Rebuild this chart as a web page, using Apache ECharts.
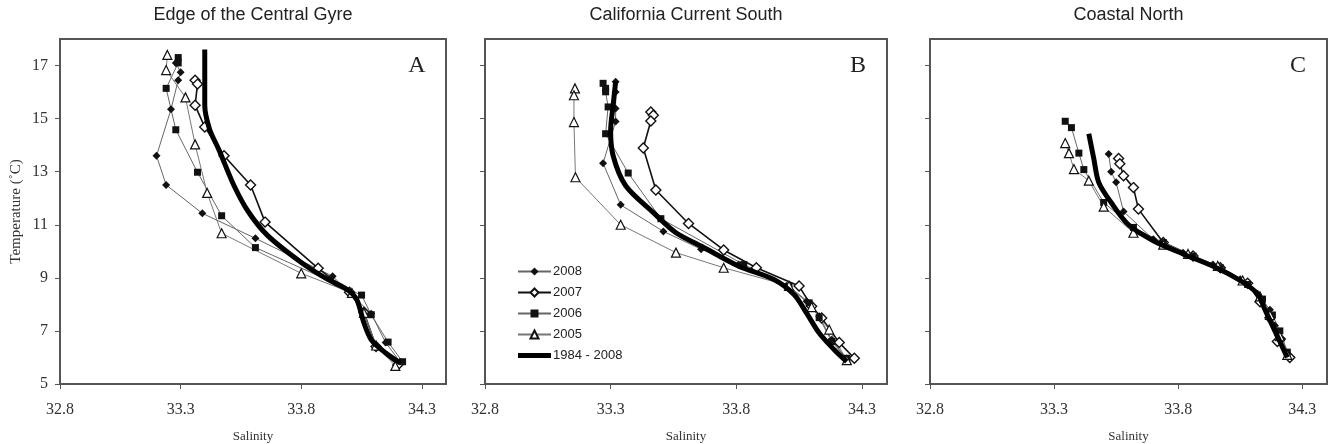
<!DOCTYPE html>
<html>
<head>
<meta charset="utf-8">
<script src="https://cdn.jsdelivr.net/npm/echarts@6.0.0/dist/echarts.min.js"></script>
<style>
  html, body { margin: 0; padding: 0; background: #fff; }
  #chart { width: 1330px; height: 444px; }
</style>
</head>
<body>
<div id="chart"></div>
<script>
// [salinity, temperature] pairs
const gyre2008 = [[33.28,17.1],[33.30,16.75],[33.29,16.45],[33.26,15.35],[33.20,13.6],[33.24,12.5],[33.39,11.43],[33.61,10.49],[33.93,9.06],[34.09,7.65],[34.15,6.56],[34.21,5.83]];
const gyre2007 = [[33.36,16.45],[33.37,16.3],[33.36,15.5],[33.40,14.68],[33.48,13.6],[33.59,12.5],[33.65,11.1],[33.87,9.36],[34.00,8.46],[34.06,7.7],[34.11,6.41],[34.20,5.72]];
const gyre2006 = [[33.29,17.3],[33.29,17.1],[33.24,16.14],[33.28,14.58],[33.37,12.98],[33.47,11.34],[33.61,10.14],[34.05,8.35],[34.09,7.61],[34.16,6.58],[34.22,5.84]];
const gyre2005 = [[33.245,17.4],[33.24,16.83],[33.32,15.8],[33.36,14.03],[33.41,12.2],[33.47,10.68],[33.80,9.17],[34.01,8.43],[34.06,7.68],[34.11,6.45],[34.19,5.68]];
const gyreMean = [[33.40,17.6],[33.40,16.5],[33.40,15.5],[33.42,14.6],[33.46,13.8],[33.52,12.5],[33.58,11.5],[33.66,10.6],[33.80,9.58],[33.91,8.94],[33.99,8.56],[34.03,8.18],[34.06,7.3],[34.09,6.67],[34.15,6.17],[34.21,5.8]];

const cal2008 = [[33.32,16.39],[33.32,16.0],[33.32,15.38],[33.32,14.89],[33.27,13.32],[33.34,11.75],[33.51,10.75],[33.66,10.08],[33.81,9.5],[34.00,8.69],[34.08,8.12],[34.13,7.55],[34.18,6.67],[34.24,5.91]];
const cal2007 = [[33.46,15.25],[33.47,15.13],[33.46,14.91],[33.43,13.89],[33.48,12.31],[33.61,11.05],[33.75,10.05],[33.88,9.38],[34.05,8.69],[34.10,7.93],[34.14,7.49],[34.21,6.56],[34.27,5.97]];
const cal2006 = [[33.27,16.33],[33.28,16.14],[33.28,16.01],[33.29,15.44],[33.28,14.43],[33.37,12.95],[33.50,11.23],[33.83,9.5],[34.01,8.69],[34.09,8.06],[34.13,7.5],[34.18,6.6],[34.24,5.97]];
const cal2005 = [[33.158,16.14],[33.154,15.88],[33.154,14.87],[33.16,12.79],[33.34,11.0],[33.56,9.95],[33.75,9.38],[34.01,8.7],[34.10,7.9],[34.17,7.05],[34.24,5.9]];
const calMean = [[33.32,16.4],[33.31,15.5],[33.30,14.56],[33.31,13.6],[33.36,12.47],[33.47,11.46],[33.56,10.7],[33.66,10.2],[33.81,9.44],[33.95,8.94],[34.03,8.37],[34.08,7.67],[34.13,6.92],[34.19,6.29],[34.24,5.84]];

const coast2008 = [[33.52,13.67],[33.53,13.0],[33.55,12.6],[33.58,11.5],[33.70,10.45],[33.82,9.95],[33.94,9.5],[34.05,8.95],[34.12,8.4],[34.17,7.8],[34.19,7.2],[34.22,6.7],[34.25,6.0]];
const coast2007 = [[33.56,13.5],[33.565,13.3],[33.58,12.85],[33.62,12.4],[33.64,11.59],[33.74,10.33],[33.86,9.82],[33.97,9.38],[34.08,8.8],[34.13,8.1],[34.17,7.5],[34.20,6.6],[34.25,6.0]];
const coast2006 = [[33.345,14.9],[33.37,14.66],[33.40,13.7],[33.42,13.08],[33.50,11.84],[33.62,10.9],[33.74,10.33],[33.86,9.82],[33.97,9.38],[34.08,8.75],[34.14,8.2],[34.18,7.6],[34.21,7.0],[34.24,6.2]];
const coast2005 = [[33.345,14.08],[33.36,13.7],[33.38,13.1],[33.44,12.66],[33.50,11.68],[33.62,10.7],[33.74,10.25],[33.84,9.9],[33.96,9.45],[34.06,8.9],[34.13,8.3],[34.17,7.6],[34.21,6.8],[34.24,6.1]];
const coastMean = [[33.44,14.43],[33.46,13.5],[33.48,12.6],[33.53,11.84],[33.60,11.0],[33.70,10.4],[33.82,9.9],[33.95,9.4],[34.05,8.9],[34.12,8.4],[34.15,7.8],[34.18,7.2],[34.21,6.6],[34.24,6.0]];

const seriesNames = ['2008', '2007', '2006', '2005', '1984 - 2008'];
const panelTitles = ['Edge of the Central Gyre', 'California Current South', 'Coastal North'];
const panelLetters = ['A', 'B', 'C'];
const salinityTicks = [32.8, 33.3, 33.8, 34.3];
const tempTicks = [5, 7, 9, 11, 13, 15, 17];

const panels = [
  [gyre2008, gyre2007, gyre2006, gyre2005, gyreMean],
  [cal2008, cal2007, cal2006, cal2005, calMean],
  [coast2008, coast2007, coast2006, coast2005, coastMean]
];

var grids = [
  { left: 60, top: 39, width: 386, height: 345 },
  { left: 485, top: 39, width: 402, height: 345 },
  { left: 930, top: 39, width: 397, height: 345 }
];

var styles = [
  { symbol: 'diamond', symbolSize: 8, itemStyle: { color: '#111' }, lineStyle: { color: '#666', width: 1 } },
  { symbol: 'diamond', symbolSize: 10, itemStyle: { color: '#fff', borderColor: '#111', borderWidth: 1.4 }, lineStyle: { color: '#111', width: 1.6 } },
  { symbol: 'rect', symbolSize: 7, itemStyle: { color: '#111' }, lineStyle: { color: '#666', width: 1 } },
  { symbol: 'triangle', symbolSize: 9, itemStyle: { color: '#fff', borderColor: '#111', borderWidth: 1.2 }, lineStyle: { color: '#777', width: 1 } },
  { symbol: 'none', smooth: 0.3, itemStyle: { color: '#000' }, lineStyle: { color: '#000', width: 5 } }
];

var serif = 'Liberation Serif';
var sans = 'Liberation Sans';

var xAxes = [], yAxes = [], series = [], graphics = [];

grids.forEach(function(g, i) {
  g.show = true;
  g.borderColor = '#555';
  g.borderWidth = 2;
  g.outerBoundsMode = 'none';
  g.containLabel = false;

  xAxes.push({
    type: 'value', gridIndex: i, min: 32.8, max: 34.4,
    axisLine: { show: false },
    axisTick: { show: true, customValues: salinityTicks, length: 5, lineStyle: { color: '#555' } },
    axisLabel: { customValues: salinityTicks, formatter: function(v) { return v.toFixed(1); },
      fontFamily: serif, fontSize: 16, color: '#333', margin: 18 },
    splitLine: { show: false },
    name: 'Salinity', nameLocation: 'middle', nameGap: 46,
    nameTextStyle: { fontFamily: serif, fontSize: 13, color: '#333' }
  });

  yAxes.push({
    type: 'value', gridIndex: i, min: 5, max: 18,
    axisLine: { show: false },
    axisTick: { show: true, customValues: tempTicks, length: 5, lineStyle: { color: '#555' } },
    axisLabel: { show: i === 0, customValues: tempTicks, fontFamily: serif, fontSize: 16, color: '#333', margin: 12 },
    splitLine: { show: false },
    name: i === 0 ? 'Temperature (˚C)' : '', nameLocation: 'middle', nameGap: 36,
    nameTextStyle: { fontFamily: serif, fontSize: 15, color: '#333' }
  });

  panels[i].forEach(function(data, k) {
    series.push(Object.assign({
      name: seriesNames[k], type: 'line', xAxisIndex: i, yAxisIndex: i,
      data: data, z: k === 4 ? 3 : 2
    }, styles[k]));
  });

  graphics.push({
    type: 'text', x: g.left + g.width / 2, y: 15,
    style: { text: panelTitles[i], fontFamily: sans, fontSize: 18, fill: '#222', align: 'center', verticalAlign: 'middle' }
  });
  graphics.push({
    type: 'text', x: g.left + g.width - 29, y: 66,
    style: { text: panelLetters[i], fontFamily: serif, fontSize: 24, fill: '#222', align: 'center', verticalAlign: 'middle' }
  });
});

var legendData = seriesNames.map(function(n, k) {
  if (k === 4) return { name: n, icon: 'path://M0,0L34,0L34,5L0,5Z', itemStyle: { color: '#000' } };
  return { name: n };
});

var chart = echarts.init(document.getElementById('chart'));
chart.setOption({
  animation: false,
  grid: grids,
  xAxis: xAxes,
  yAxis: yAxes,
  series: series,
  graphic: graphics,
  legend: {
    data: legendData, orient: 'vertical', left: 512, top: 260,
    itemWidth: 33, itemHeight: 10, itemGap: 8,
    textStyle: { fontFamily: sans, fontSize: 13, color: '#222', padding: [0, 0, 0, -3] }
  }
});
</script>
</body>
</html>
